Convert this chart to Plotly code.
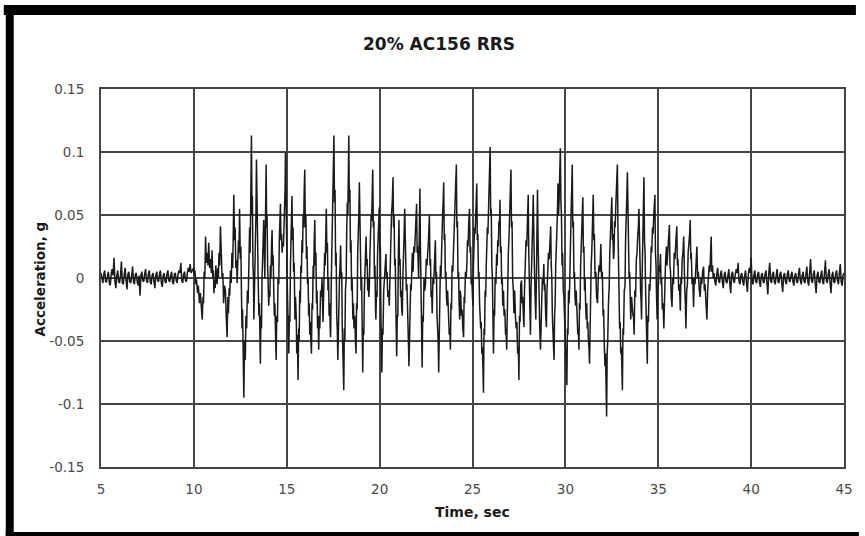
import plotly.graph_objects as go

# ---------------- data ----------------
# quiet lead-in, 5.00 .. 9.95 s every 0.05 s
quiet1_start, quiet1_step = 5.0, 0.05
quiet1_vals = [0.004, -0.002, -0.004, 0.003, 0.006, -0.003, -0.003, 0.002, 0.005, -0.004,
               -0.006, 0.003, 0.007, 0.002, 0.016, -0.003, -0.008, 0.002, 0.006, -0.003,
               -0.004, 0.002, 0.013, -0.004, -0.005, 0.003, 0.008, -0.002, -0.009, 0.003,
               0.005, -0.003, -0.004, 0.002, 0.009, -0.003, -0.005, 0.003, 0.004, -0.003,
               -0.006, 0.002, -0.014, 0.002, 0.005, -0.002, -0.003, 0.003, 0.007, -0.002,
               -0.004, 0.003, 0.006, -0.003, -0.005, 0.002, 0.004, -0.003, -0.008, 0.002,
               0.005, -0.002, -0.003, 0.003, 0.006, -0.004, -0.007, 0.002, 0.004, -0.003,
               -0.004, 0.003, 0.006, -0.002, -0.003, 0.002, 0.005, -0.003, -0.005, 0.003,
               0.004, -0.002, -0.004, 0.003, 0.006, 0.004, 0.012, -0.002, -0.004, 0.003,
               0.005, -0.002, -0.003, 0.004, 0.008, 0.005, 0.011, 0.004, 0.006, 0.007]

# strong motion, 10 - 15.3 s
segA_t = [10.00, 10.03, 10.06, 10.10, 10.14, 10.17, 10.20, 10.24, 10.27, 10.30, 10.35, 10.40, 10.45, 10.49,
          10.52, 10.55, 10.59, 10.63, 10.67, 10.72, 10.76, 10.80, 10.85, 10.90, 10.94, 10.98, 11.02, 11.05,
          11.08, 11.12, 11.15, 11.18, 11.22, 11.25, 11.29, 11.32, 11.35, 11.39, 11.43, 11.47, 11.50, 11.52,
          11.56, 11.60, 11.65, 11.70, 11.74, 11.79, 11.83, 11.86, 11.90, 11.93, 11.97, 12.01, 12.05, 12.09,
          12.12, 12.15, 12.19, 12.22, 12.26, 12.30, 12.33, 12.37, 12.40, 12.43, 12.46, 12.50, 12.53, 12.56,
          12.59, 12.62, 12.65, 12.69, 12.73, 12.77, 12.80, 12.84, 12.88, 12.92, 12.96, 13.00, 13.03, 13.06,
          13.10, 13.13, 13.15, 13.18, 13.21, 13.23, 13.26, 13.28, 13.31, 13.34, 13.37, 13.40, 13.43, 13.46,
          13.50, 13.53, 13.56, 13.58, 13.61, 13.64, 13.67, 13.70, 13.73, 13.76, 13.79, 13.82, 13.85, 13.87,
          13.89, 13.92, 13.94, 13.97, 14.00, 14.03, 14.06, 14.09, 14.12, 14.15, 14.18, 14.21, 14.24, 14.27,
          14.30, 14.33, 14.36, 14.40, 14.43, 14.46, 14.50, 14.53, 14.57, 14.60, 14.63, 14.66, 14.69, 14.72,
          14.75, 14.78, 14.82, 14.85, 14.88, 14.91, 14.93, 14.96, 14.99, 15.02, 15.05, 15.08, 15.11, 15.14,
          15.17, 15.20, 15.23, 15.26, 15.28]
segA_a = [0.008, 0.002, 0.006, -0.005, -0.001, -0.010, -0.012, -0.006, -0.018, -0.020, -0.012, -0.028, -0.033, -0.015,
          -0.020, 0.005, 0.000, 0.033, 0.012, 0.020, 0.010, 0.028, 0.008, 0.015, 0.004, 0.022, 0.000, 0.006,
          -0.012, -0.002, -0.008, 0.010, 0.002, -0.005, 0.008, 0.000, 0.020, 0.010, 0.041, 0.012, 0.018, 0.000,
          0.004, -0.020, -0.006, -0.010, -0.030, -0.047, -0.015, -0.028, -0.008, -0.014, 0.006, -0.004, 0.020, 0.008,
          0.035, 0.066, 0.030, 0.040, 0.008, 0.014, -0.004, 0.012, 0.030, 0.020, 0.055, 0.015, 0.025, -0.010,
          -0.040, -0.025, -0.060, -0.095, -0.050, -0.065, -0.030, -0.040, -0.010, -0.020, 0.010, 0.040, 0.020, 0.070,
          0.113, 0.050, 0.065, 0.010, 0.000, -0.033, -0.010, -0.015, 0.030, 0.050, 0.094, 0.040, 0.050, 0.000,
          -0.030, -0.020, -0.050, -0.068, -0.030, -0.040, 0.000, 0.010, 0.030, 0.046, 0.015, 0.000, 0.040, 0.060,
          0.090, 0.040, 0.050, 0.010, 0.000, -0.022, -0.010, -0.015, 0.010, 0.000, 0.025, 0.038, 0.010, 0.018,
          -0.010, -0.030, -0.020, -0.050, -0.065, -0.030, -0.035, 0.000, -0.005, 0.030, 0.040, 0.059, 0.030, 0.035,
          0.020, 0.028, 0.025, 0.040, 0.050, 0.070, 0.100, 0.050, 0.030, 0.000, -0.020, -0.040, -0.060, -0.030,
          -0.035, 0.010, 0.030, 0.045, 0.065]

# strong motion, 15.3 - 20.7 s
segB_t = [15.31, 15.34, 15.37, 15.40, 15.44, 15.47, 15.51, 15.54, 15.57, 15.61, 15.64, 15.67, 15.70, 15.73,
          15.76, 15.79, 15.82, 15.85, 15.88, 15.91, 15.94, 15.97, 16.00, 16.03, 16.06, 16.09, 16.12, 16.15,
          16.18, 16.21, 16.24, 16.27, 16.30, 16.33, 16.36, 16.39, 16.42, 16.45, 16.48, 16.51, 16.54, 16.57,
          16.60, 16.63, 16.66, 16.69, 16.72, 16.75, 16.78, 16.82, 16.86, 16.90, 16.95, 16.98, 17.01, 17.04,
          17.07, 17.10, 17.13, 17.16, 17.19, 17.22, 17.25, 17.28, 17.31, 17.34, 17.36, 17.39, 17.42, 17.45,
          17.48, 17.51, 17.54, 17.57, 17.60, 17.63, 17.66, 17.69, 17.72, 17.75, 17.78, 17.81, 17.84, 17.87,
          17.90, 17.93, 17.96, 17.99, 18.02, 18.05, 18.07, 18.10, 18.13, 18.16, 18.20, 18.23, 18.26, 18.29,
          18.31, 18.34, 18.37, 18.40, 18.43, 18.46, 18.49, 18.52, 18.56, 18.59, 18.62, 18.66, 18.70, 18.73,
          18.76, 18.79, 18.82, 18.85, 18.88, 18.91, 18.94, 18.97, 19.00, 19.03, 19.06, 19.09, 19.12, 19.15,
          19.18, 19.21, 19.24, 19.27, 19.30, 19.33, 19.36, 19.39, 19.42, 19.45, 19.48, 19.51, 19.54, 19.57,
          19.60, 19.63, 19.66, 19.69, 19.72, 19.75, 19.78, 19.80, 19.83, 19.86, 19.89, 19.92, 19.95, 19.98,
          20.01, 20.04, 20.07, 20.10, 20.12, 20.15, 20.18, 20.22, 20.26, 20.30, 20.34, 20.37, 20.40, 20.44,
          20.48, 20.52, 20.55, 20.58, 20.61, 20.64, 20.68, 20.72]
segB_a = [0.030, 0.040, 0.005, 0.012, -0.033, -0.015, -0.030, -0.060, -0.045, -0.081, -0.040, -0.050, -0.010, -0.020,
          0.010, 0.004, 0.030, 0.020, 0.050, 0.040, 0.070, 0.086, 0.040, 0.050, 0.015, 0.025, -0.005, 0.000,
          -0.030, -0.020, -0.045, -0.035, -0.050, -0.060, -0.020, -0.025, 0.010, 0.000, 0.030, 0.046, 0.010, 0.020,
          -0.020, -0.010, -0.040, -0.030, -0.057, -0.030, -0.040, -0.010, -0.015, 0.000, -0.035, -0.010, -0.015, 0.020,
          0.010, 0.040, 0.055, 0.020, 0.028, -0.010, 0.000, -0.030, -0.020, -0.040, -0.047, -0.010, 0.020, 0.010,
          0.060, 0.080, 0.113, 0.060, 0.070, 0.010, 0.020, -0.030, -0.040, -0.065, -0.030, -0.035, 0.000, 0.010,
          0.026, 0.000, 0.005, -0.040, -0.060, -0.070, -0.089, -0.040, -0.050, -0.010, 0.000, 0.040, 0.060, 0.050,
          0.080, 0.113, 0.060, 0.070, 0.020, 0.030, -0.010, 0.000, -0.033, -0.020, -0.040, -0.030, -0.050, -0.060,
          -0.020, -0.025, 0.020, 0.030, 0.050, 0.076, 0.030, 0.040, -0.010, 0.000, -0.050, -0.075, -0.040, -0.045,
          -0.010, 0.000, 0.020, 0.033, 0.010, 0.015, -0.010, 0.000, -0.015, -0.005, 0.020, 0.030, 0.050, 0.045,
          0.070, 0.086, 0.040, 0.045, 0.000, 0.010, -0.025, -0.033, -0.010, -0.015, 0.020, 0.030, 0.040, 0.056,
          0.020, 0.025, -0.030, -0.050, -0.075, -0.040, -0.045, -0.010, 0.000, 0.010, 0.019, 0.000, 0.005, -0.015,
          -0.010, -0.022, 0.000, 0.020, 0.030, 0.050, 0.060, 0.080]

# strong motion, 20.7 - 26 s
segC_t = [20.75, 20.78, 20.81, 20.84, 20.87, 20.90, 20.92, 20.95, 20.98, 21.01, 21.04, 21.07, 21.10, 21.13,
          21.16, 21.19, 21.22, 21.25, 21.28, 21.31, 21.35, 21.38, 21.41, 21.44, 21.47, 21.50, 21.54, 21.58,
          21.61, 21.64, 21.67, 21.70, 21.73, 21.76, 21.80, 21.84, 21.88, 21.92, 21.96, 21.99, 22.02, 22.05,
          22.10, 22.13, 22.17, 22.20, 22.23, 22.26, 22.29, 22.32, 22.35, 22.39, 22.43, 22.47, 22.51, 22.55,
          22.59, 22.63, 22.68, 22.71, 22.74, 22.77, 22.80, 22.83, 22.87, 22.91, 22.95, 23.00, 23.03, 23.06,
          23.09, 23.12, 23.15, 23.18, 23.21, 23.24, 23.27, 23.30, 23.33, 23.36, 23.39, 23.42, 23.45, 23.48,
          23.51, 23.54, 23.57, 23.60, 23.63, 23.66, 23.69, 23.72, 23.75, 23.78, 23.81, 23.84, 23.87, 23.90,
          23.94, 23.98, 24.01, 24.04, 24.07, 24.10, 24.13, 24.16, 24.19, 24.22, 24.25, 24.28, 24.31, 24.34,
          24.37, 24.40, 24.44, 24.48, 24.52, 24.55, 24.58, 24.62, 24.66, 24.70, 24.73, 24.76, 24.80, 24.84,
          24.87, 24.90, 24.93, 24.96, 25.00, 25.02, 25.05, 25.08, 25.11, 25.14, 25.18, 25.23, 25.26, 25.29,
          25.32, 25.35, 25.38, 25.41, 25.44, 25.47, 25.50, 25.53, 25.56, 25.59, 25.62, 25.65, 25.68, 25.71,
          25.74, 25.77, 25.80, 25.83, 25.86, 25.89, 25.92, 25.95]
segC_a = [0.040, 0.050, 0.010, 0.015, -0.020, -0.035, -0.062, -0.030, -0.030, 0.020, 0.046, 0.010, 0.015, -0.015,
          -0.010, -0.025, -0.030, 0.000, 0.010, 0.030, 0.055, 0.020, 0.025, -0.010, -0.005, -0.035, -0.045, -0.070,
          -0.035, -0.040, -0.005, -0.010, 0.015, 0.020, 0.005, 0.025, 0.020, 0.040, 0.045, 0.059, 0.020, 0.025,
          0.000, 0.040, 0.071, 0.020, -0.020, -0.040, -0.071, -0.030, -0.035, 0.000, -0.010, -0.005, 0.015, 0.010,
          0.030, 0.030, 0.050, 0.010, 0.015, -0.015, -0.010, -0.028, 0.000, -0.005, 0.020, 0.030, 0.000, 0.005,
          -0.030, -0.040, -0.050, -0.075, -0.030, -0.035, 0.010, 0.000, 0.030, 0.025, 0.050, 0.060, 0.076, 0.030,
          0.035, 0.000, 0.005, -0.015, -0.022, -0.010, -0.030, -0.025, -0.045, -0.040, -0.057, -0.020, -0.025, 0.010,
          0.005, 0.023, 0.040, 0.035, 0.060, 0.070, 0.090, 0.040, 0.045, 0.000, 0.005, -0.020, -0.033, -0.010,
          -0.015, -0.030, -0.025, -0.040, -0.047, -0.015, -0.020, 0.005, 0.000, 0.012, 0.030, 0.025, 0.045, 0.055,
          0.020, 0.025, -0.005, 0.000, -0.015, -0.022, 0.010, 0.020, 0.040, 0.035, 0.060, 0.075, 0.030, 0.035,
          0.000, 0.005, -0.020, -0.033, -0.040, -0.035, -0.060, -0.055, -0.070, -0.091, -0.040, -0.045, -0.010, -0.015,
          0.010, 0.019, 0.040, 0.035, 0.060, 0.070, 0.085, 0.104]

# strong motion, 26 - 31.5 s
segD_t = [25.98, 26.01, 26.04, 26.07, 26.10, 26.13, 26.16, 26.19, 26.22, 26.26, 26.30, 26.33, 26.36, 26.39,
          26.42, 26.45, 26.48, 26.51, 26.54, 26.57, 26.60, 26.63, 26.67, 26.70, 26.74, 26.78, 26.81, 26.84,
          26.87, 26.90, 26.93, 26.96, 26.99, 27.02, 27.05, 27.07, 27.10, 27.13, 27.16, 27.20, 27.23, 27.27,
          27.31, 27.35, 27.39, 27.43, 27.47, 27.50, 27.53, 27.56, 27.60, 27.64, 27.67, 27.70, 27.74, 27.77,
          27.80, 27.84, 27.88, 27.92, 27.96, 28.00, 28.03, 28.06, 28.09, 28.12, 28.15, 28.18, 28.21, 28.24,
          28.27, 28.30, 28.33, 28.37, 28.41, 28.44, 28.47, 28.50, 28.53, 28.56, 28.59, 28.62, 28.66, 28.69,
          28.72, 28.76, 28.80, 28.84, 28.87, 28.90, 28.94, 28.98, 29.01, 29.05, 29.09, 29.13, 29.17, 29.21,
          29.24, 29.27, 29.30, 29.33, 29.36, 29.39, 29.42, 29.45, 29.48, 29.51, 29.54, 29.57, 29.60, 29.63,
          29.66, 29.70, 29.73, 29.76, 29.79, 29.82, 29.85, 29.89, 29.92, 29.96, 29.99, 30.02, 30.05, 30.08,
          30.11, 30.14, 30.17, 30.20, 30.23, 30.26, 30.29, 30.32, 30.34, 30.37, 30.40, 30.43, 30.46, 30.49,
          30.52, 30.55, 30.58, 30.61, 30.64, 30.67, 30.70, 30.73, 30.76, 30.79, 30.82, 30.85, 30.88, 30.91,
          30.94, 30.97, 31.00, 31.03, 31.06, 31.09, 31.12, 31.15, 31.18, 31.21, 31.24, 31.27, 31.30, 31.33,
          31.36, 31.39, 31.42, 31.45, 31.48, 31.50]
segD_a = [0.050, 0.055, 0.010, 0.000, -0.030, -0.060, -0.025, -0.030, 0.000, -0.005, 0.019, 0.010, 0.030, 0.025,
          0.045, 0.040, 0.062, 0.020, 0.025, -0.005, 0.000, -0.022, -0.010, -0.030, -0.025, -0.045, -0.040, -0.057,
          -0.020, -0.025, 0.020, 0.030, 0.050, 0.045, 0.070, 0.086, 0.040, 0.045, 0.000, -0.010, -0.028, -0.010,
          -0.030, -0.040, -0.035, -0.060, -0.055, -0.081, -0.030, -0.035, -0.005, -0.002, -0.020, -0.015, -0.030, -0.039,
          -0.010, 0.010, 0.030, 0.025, 0.045, 0.066, 0.020, -0.010, -0.020, -0.045, -0.010, 0.020, 0.030, 0.045,
          0.066, 0.020, 0.010, -0.015, -0.033, 0.000, 0.040, 0.070, 0.030, 0.000, -0.030, -0.040, -0.057, -0.030,
          -0.035, 0.000, -0.005, 0.011, -0.010, -0.005, -0.030, -0.039, -0.010, 0.000, 0.020, 0.015, 0.030, 0.041,
          0.010, 0.000, -0.030, -0.040, -0.050, -0.065, -0.030, -0.020, 0.010, 0.020, 0.040, 0.050, 0.075, 0.050,
          0.060, 0.080, 0.103, 0.060, 0.050, 0.010, 0.020, -0.010, -0.015, -0.033, -0.050, -0.045, -0.065, -0.085,
          -0.040, -0.045, -0.010, -0.020, -0.007, 0.030, 0.040, 0.060, 0.070, 0.090, 0.040, 0.045, 0.000, 0.005,
          -0.015, -0.022, -0.010, -0.030, -0.025, -0.045, -0.040, -0.057, -0.020, -0.025, 0.010, 0.020, 0.040, 0.045,
          0.064, 0.020, 0.025, -0.010, 0.000, -0.020, -0.033, -0.020, -0.040, -0.035, -0.050, -0.055, -0.068, -0.030,
          -0.020, 0.010, 0.020, 0.040, 0.050, 0.066]

# strong motion dying out, 31.5 - 38 s
segE_t = [31.53, 31.56, 31.60, 31.64, 31.68, 31.73, 31.77, 31.81, 31.86, 31.91, 31.95, 31.99, 32.03, 32.06,
          32.09, 32.13, 32.16, 32.19, 32.22, 32.25, 32.28, 32.32, 32.36, 32.39, 32.42, 32.46, 32.50, 32.53,
          32.56, 32.59, 32.62, 32.65, 32.68, 32.72, 32.76, 32.80, 32.83, 32.86, 32.89, 32.92, 32.95, 32.98,
          33.01, 33.04, 33.07, 33.10, 33.13, 33.17, 33.21, 33.24, 33.27, 33.30, 33.34, 33.37, 33.40, 33.43,
          33.46, 33.49, 33.52, 33.56, 33.60, 33.64, 33.67, 33.70, 33.74, 33.78, 33.82, 33.86, 33.90, 33.93,
          33.96, 33.99, 34.02, 34.05, 34.08, 34.10, 34.13, 34.16, 34.19, 34.21, 34.23, 34.26, 34.29, 34.32,
          34.35, 34.38, 34.41, 34.44, 34.47, 34.51, 34.55, 34.59, 34.62, 34.65, 34.69, 34.72, 34.76, 34.79,
          34.82, 34.85, 34.88, 34.91, 34.94, 34.97, 35.01, 35.05, 35.08, 35.12, 35.15, 35.18, 35.22, 35.26,
          35.30, 35.33, 35.36, 35.40, 35.44, 35.47, 35.51, 35.55, 35.60, 35.63, 35.66, 35.70, 35.74, 35.78,
          35.82, 35.86, 35.90, 35.95, 36.00, 36.03, 36.06, 36.10, 36.14, 36.19, 36.22, 36.25, 36.29, 36.33,
          36.37, 36.40, 36.43, 36.46, 36.49, 36.53, 36.57, 36.61, 36.65, 36.69, 36.72, 36.75, 36.78, 36.82,
          36.86, 36.90, 36.94, 36.98, 37.02, 37.05, 37.08, 37.12, 37.16, 37.21, 37.26, 37.30, 37.34, 37.39,
          37.44, 37.48, 37.52, 37.57, 37.62, 37.66, 37.70, 37.74, 37.78, 37.82, 37.85, 37.88, 37.92, 37.96]
segE_a = [0.030, 0.035, 0.000, 0.005, -0.015, -0.020, 0.000, 0.010, 0.005, 0.027, 0.000, 0.005, -0.030, -0.025,
          -0.050, -0.070, -0.060, -0.085, -0.110, -0.060, -0.050, -0.020, -0.007, 0.020, 0.030, 0.045, 0.064, 0.030,
          0.035, 0.015, 0.020, 0.045, 0.040, 0.060, 0.070, 0.090, 0.040, 0.000, -0.033, -0.040, -0.035, -0.060,
          -0.055, -0.070, -0.089, -0.040, -0.045, -0.010, -0.007, 0.030, 0.040, 0.060, 0.084, 0.040, 0.045, 0.000,
          0.005, -0.020, -0.033, -0.015, -0.025, -0.030, -0.030, -0.045, -0.010, -0.015, 0.015, 0.020, 0.035, 0.040,
          0.055, 0.020, 0.020, -0.010, -0.020, -0.033, 0.000, 0.020, 0.050, 0.060, 0.080, 0.030, 0.020, -0.010,
          -0.030, -0.050, -0.068, -0.030, -0.035, -0.005, -0.010, 0.006, 0.025, 0.020, 0.040, 0.035, 0.050, 0.055,
          0.066, 0.020, 0.010, -0.015, -0.033, -0.010, -0.005, 0.010, 0.005, 0.019, -0.005, 0.000, -0.025, -0.020,
          -0.040, -0.010, -0.005, 0.015, 0.025, 0.010, 0.020, 0.030, 0.042, 0.010, 0.005, -0.015, -0.023, 0.000,
          -0.005, 0.020, 0.015, 0.030, 0.041, 0.010, 0.015, -0.010, -0.005, -0.026, 0.000, -0.005, 0.015, 0.020,
          0.033, 0.000, -0.010, -0.020, -0.040, -0.010, -0.005, 0.020, 0.025, 0.035, 0.046, 0.015, 0.020, -0.005,
          0.000, -0.023, 0.000, -0.005, 0.015, 0.010, 0.025, 0.000, 0.005, -0.010, -0.015, 0.000, -0.005, 0.005,
          0.009, -0.010, -0.005, -0.020, -0.033, -0.010, 0.000, 0.010, 0.005, 0.020, 0.033, 0.005, 0.010, 0.000]

# quiet tail, 38.00 .. 45.00 s every 0.05 s
quiet2_start, quiet2_step = 38.0, 0.05
quiet2_vals = [0.004, -0.003, -0.006, 0.003, 0.008, -0.002, -0.004, 0.003, 0.006, -0.003,
               -0.008, 0.002, 0.005, -0.003, -0.004, 0.002, 0.007, -0.004, -0.012, 0.003,
               0.005, -0.002, -0.004, 0.003, 0.007, 0.004, 0.012, -0.003, -0.005, 0.002,
               0.004, -0.003, -0.006, 0.002, 0.006, -0.004, -0.011, 0.003, 0.008, 0.004,
               0.016, -0.003, -0.005, 0.002, 0.006, -0.003, -0.004, 0.003, 0.005, -0.003,
               -0.007, 0.002, 0.004, -0.003, -0.004, 0.003, 0.006, -0.004, -0.013, 0.004,
               0.012, -0.002, -0.004, 0.003, 0.005, -0.003, -0.005, 0.002, 0.007, -0.003,
               -0.004, 0.003, 0.005, -0.004, -0.011, 0.002, 0.004, -0.003, -0.005, 0.003,
               0.006, -0.002, -0.003, 0.002, 0.005, -0.003, -0.006, 0.002, 0.004, -0.003,
               -0.004, 0.003, 0.008, -0.002, -0.005, 0.002, 0.005, -0.003, -0.004, 0.003,
               0.009, -0.003, -0.006, 0.004, 0.015, -0.002, -0.004, 0.003, 0.006, -0.004,
               -0.012, 0.002, 0.005, -0.003, -0.004, 0.002, 0.006, -0.003, -0.005, 0.004,
               0.014, -0.002, -0.004, 0.003, 0.007, -0.004, -0.012, 0.002, 0.005, -0.003,
               -0.004, 0.003, 0.006, -0.002, -0.005, 0.004, 0.011, -0.003, -0.006, 0.002,
               0.004]

x_ticks = [5, 10, 15, 20, 25, 30, 35, 40, 45]
y_ticks = [0.15, 0.1, 0.05, 0, -0.05, -0.1, -0.15]
y_tick_text = ["0.15", "0.1", "0.05", "0", "-0.05", "-0.1", "-0.15"]

title_text = "20% AC156 RRS"
x_title = "Time, sec"
y_title = "Acceleration, g"

# ---------------- assemble the series ----------------
t_q1 = [round(quiet1_start + i * quiet1_step, 3) for i in range(len(quiet1_vals))]
t_q2 = [round(quiet2_start + i * quiet2_step, 3) for i in range(len(quiet2_vals))]
t_all = t_q1 + segA_t + segB_t + segC_t + segD_t + segE_t + t_q2
a_all = quiet1_vals + segA_a + segB_a + segC_a + segD_a + segE_a + quiet2_vals

# ---------------- layout geometry (pixels) ----------------
W, H = 865, 536
L, R, T, B = 101, 850, 89, 467  # plot area edges


def px(xp):
    return (xp - L) / (R - L)


def py(yp):
    return (B - yp) / (B - T)


fig = go.Figure()
fig.add_trace(go.Scatter(x=t_all, y=a_all, mode="lines",
                         line=dict(color="#1a1a1a", width=1.5), hoverinfo="skip",
                         showlegend=False))

grid = "#454545"
tick_font = dict(size=13.5, color="#4a4a4a", family="DejaVu Sans, Verdana, sans-serif")
fig.update_layout(
    width=W, height=H, autosize=False,
    margin=dict(l=L, r=W - R, t=T, b=H - B, pad=0),
    paper_bgcolor="white", plot_bgcolor="white",
    font=dict(family="DejaVu Sans, Verdana, sans-serif", color="#333333", size=12),
    xaxis=dict(range=[5, 45], tickvals=x_ticks, showgrid=True, gridcolor=grid, gridwidth=1.5,
               showline=True, linecolor=grid, linewidth=2, mirror=True, zeroline=False,
               ticks="", tickfont=tick_font, ticklabelstandoff=9, fixedrange=True),
    yaxis=dict(range=[-0.15, 0.15], tickvals=y_ticks, ticktext=y_tick_text, showgrid=True,
               gridcolor=grid, gridwidth=1.5, showline=True, linecolor=grid, linewidth=2,
               mirror=True, zeroline=False, ticks="", tickfont=tick_font,
               ticklabelstandoff=12, fixedrange=True),
    annotations=[
        dict(text="<b>" + title_text + "</b>", xref="paper", yref="paper",
             x=px(442), y=py(44), showarrow=False, font=dict(size=17, color="#1a1a1a"),
             xanchor="center", yanchor="middle"),
        dict(text="<b>" + x_title + "</b>", xref="paper", yref="paper",
             x=px(476), y=py(512), showarrow=False, font=dict(size=14, color="#1a1a1a"),
             xanchor="center", yanchor="middle"),
        dict(text="<b>" + y_title + "</b>", xref="paper", yref="paper",
             x=px(40), y=py(279), showarrow=False, textangle=-90,
             font=dict(size=13.5, color="#1a1a1a"), xanchor="center", yanchor="middle"),
    ],
    shapes=[
        dict(type="rect", xref="paper", yref="paper", x0=px(3), x1=px(862), y0=py(15), y1=py(5),
             fillcolor="black", line=dict(width=0), layer="above"),
        dict(type="rect", xref="paper", yref="paper", x0=px(5), x1=px(13), y0=py(536), y1=py(5),
             fillcolor="black", line=dict(width=0), layer="above"),
        dict(type="rect", xref="paper", yref="paper", x0=px(5), x1=px(865), y0=py(536), y1=py(532),
             fillcolor="black", line=dict(width=0), layer="above"),
    ],
)

fig.write_html("out.html", config={"displayModeBar": False},
               post_script="document.body.style.margin='0';")
